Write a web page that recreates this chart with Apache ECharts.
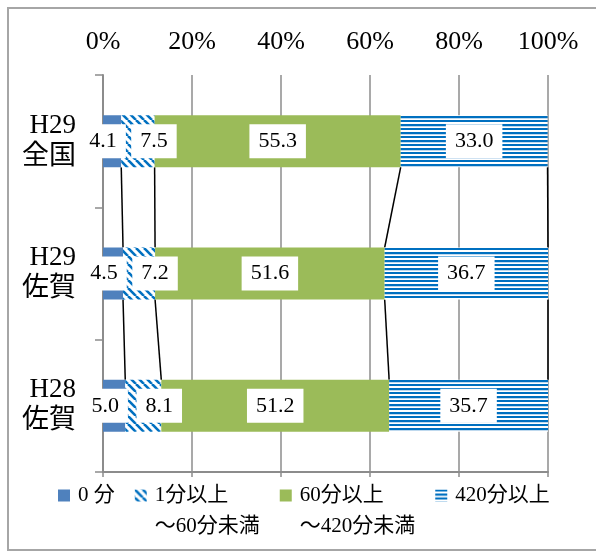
<!DOCTYPE html>
<html><head><meta charset="utf-8">
<script src="https://cdn.jsdelivr.net/npm/echarts@6/dist/echarts.min.js"></script>
<style>html,body{margin:0;padding:0;background:#fff}#c{width:596px;height:552px}</style>
</head><body><div id="c"></div>
<script>
const categories = ['H29\n全国', 'H29\n佐賀', 'H28\n佐賀'];
const seriesNames = ['0 分', '1分以上\n～60分未満', '60分以上\n～420分未満', '420分以上'];
const v0 = [4.1, 4.5, 5.0];
const v1 = [7.5, 7.2, 8.1];
const v2 = [55.3, 51.6, 51.2];
const v3 = [33.0, 36.7, 35.7];
const xTicks = [0, 20, 40, 60, 80, 100];

const FONT = "'Liberation Serif','Noto Sans CJK JP',serif";
const BAR_W = 52;
const GRAY = '#8C8C8C';

function diagPattern() {
  const c = document.createElement('canvas'); c.width = 8; c.height = 8;
  const g = c.getContext('2d');
  g.fillStyle = '#fff'; g.fillRect(0, 0, 8, 8);
  g.strokeStyle = '#0070C0'; g.lineWidth = 2.6;
  for (const o of [-8, 0, 8]) { g.beginPath(); g.moveTo(o, 0); g.lineTo(o + 8, 8); g.stroke(); }
  return c;
}
function horizPattern() {
  const c = document.createElement('canvas'); c.width = 4; c.height = 8;
  const g = c.getContext('2d');
  g.fillStyle = '#fff'; g.fillRect(0, 0, 4, 8);
  g.fillStyle = '#0070C0'; g.fillRect(0, 0, 4, 2); g.fillRect(0, 4, 4, 2);
  g.fillStyle = '#BFD9EE'; g.fillRect(0, 6, 4, 1);
  return c;
}

const colors = [
  '#4F81BD',
  { image: diagPattern(), repeat: 'repeat' },
  '#9BBB59',
  { image: horizPattern(), repeat: 'repeat' }
];
const offsets = [[-9, 0], [16, 0], [0, 0], [0, 0]];
const stacks = [v0, v1, v2, v3];

const cum = categories.map((_, i) => { let s = 0; return stacks.map(a => (s += a[i])); });
const connData = [];
for (let i = 0; i < categories.length - 1; i++)
  for (let k = 0; k < stacks.length; k++) connData.push([cum[i][k], cum[i + 1][k], i]);

const barSeries = stacks.map((vals, k) => ({
  name: seriesNames[k], type: 'bar', stack: 'all', barWidth: BAR_W,
  data: vals,
  itemStyle: { color: colors[k] },
  label: {
    show: true, position: 'inside', offset: offsets[k],
    formatter: p => Number(p.value).toFixed(1),
    backgroundColor: '#fff', padding: [6, 9], color: '#000',
    fontFamily: FONT, fontSize: 22, lineHeight: 22
  },
  z: 3
}));

const chart = echarts.init(document.getElementById('c'), null, { renderer: 'canvas' });
chart.setOption({
  animation: false,
  backgroundColor: '#fff',
  graphic: [{
    type: 'rect', shape: { x: 8, y: 8, width: 600, height: 542 },
    style: { fill: 'none', stroke: '#A6A6A6', lineWidth: 2 }, z: -1
  }],
  grid: { left: 103, right: 48, top: 75, bottom: 80 },
  legend: {
    data: seriesNames, left: 58, top: 449, padding: 0,
    itemWidth: 12, itemHeight: 12, itemGap: 20, icon: 'rect',
    formatter: n => n.includes('\n') ? '\n' + n : n,
    textStyle: { fontFamily: FONT, fontSize: 21, lineHeight: 31, color: '#000', padding: [0, 0, 0, 3] }
  },
  xAxis: [{
    type: 'value', position: 'top', min: xTicks[0], max: xTicks[xTicks.length - 1], interval: 20,
    axisLine: { show: false }, axisTick: { show: false },
    axisLabel: { formatter: '{value}%', fontFamily: FONT, fontSize: 26, color: '#000', margin: 20 },
    splitLine: { show: true, lineStyle: { color: GRAY, width: 1.5 } }
  }, {
    type: 'value', position: 'bottom', min: xTicks[0], max: xTicks[xTicks.length - 1], interval: 20,
    axisLine: { show: true, lineStyle: { color: GRAY, width: 2 } },
    axisTick: { show: true, length: 5, lineStyle: { color: GRAY, width: 1.5 } },
    axisLabel: { show: false }, splitLine: { show: false }
  }],
  yAxis: {
    type: 'category', data: categories, inverse: true,
    axisLine: { show: true, lineStyle: { color: GRAY, width: 2 } },
    axisTick: { show: true, length: 8, lineStyle: { color: GRAY, width: 1.5 } },
    axisLabel: { fontFamily: FONT, fontSize: 27, lineHeight: 31, color: '#000', margin: 27 }
  },
  series: barSeries.concat([{
    type: 'custom', name: 'lines', data: connData, xAxisIndex: 0,
    encode: { x: [0, 1], y: 2 }, z: 2, silent: true,
    renderItem(params, api) {
      const i = api.value(2);
      const p1 = api.coord([api.value(0), i]);
      const p2 = api.coord([api.value(1), i + 1]);
      return {
        type: 'line',
        shape: { x1: p1[0], y1: p1[1] + BAR_W / 2, x2: p2[0], y2: p2[1] - BAR_W / 2 },
        style: { stroke: '#000', lineWidth: 1.5 }
      };
    }
  }])
});
</script>
</body></html>
